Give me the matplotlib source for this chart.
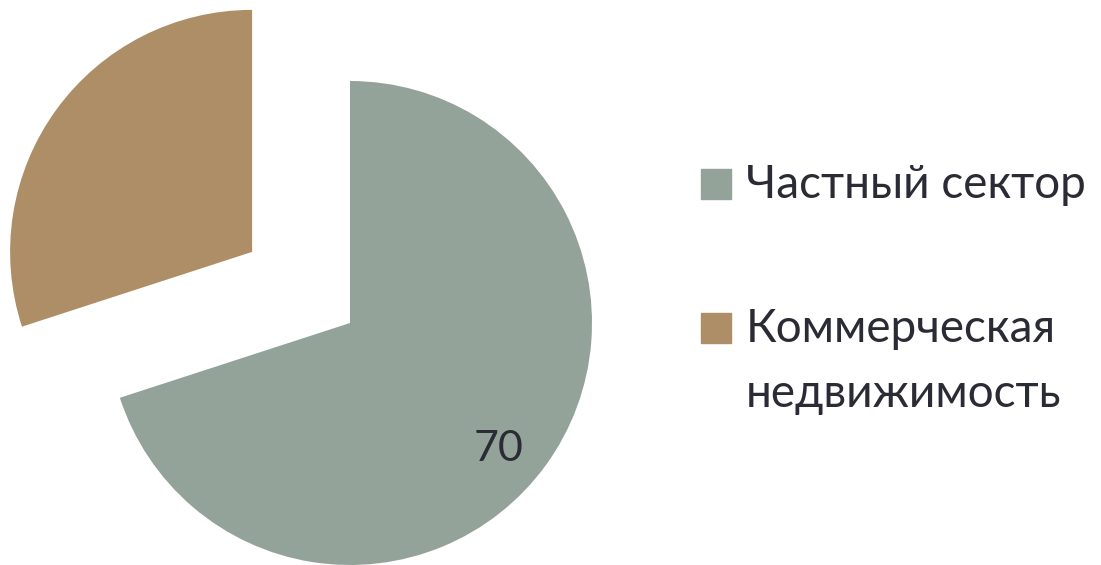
import matplotlib.pyplot as plt
from matplotlib.patches import Rectangle
from matplotlib.transforms import offset_copy

# data
labels = ["Частный сектор", "Коммерческая\nнедвижимость"]
values = [70, 30]
colors = ["#94A39A", "#AD8E66"]
shown = [True, False]  # only the first slice carries a value label

text_color = "#2B2B36"
plt.rcParams["font.family"] = ["Lato", "DejaVu Sans"]

W, H = 1101, 565
fig = plt.figure(figsize=(W / 100, H / 100), dpi=100)
ax = fig.add_axes([0, 0, 1, 1])

# pie centre / radius in pixels
cx, cy, r = 350, 323, 242

wedges, texts = ax.pie(
    values,
    colors=colors,
    startangle=90,
    counterclock=False,
    explode=[0, 0.5],
    labels=[str(v) if s else "" for v, s in zip(values, shown)],
    labeldistance=0.8,
    textprops=dict(color=text_color, fontsize=31, ha="center", va="center"),
    wedgeprops=dict(linewidth=0),
)
# nudge value labels like the original layout
for t in texts:
    t.set_transform(offset_copy(t.get_transform(), fig=fig, x=-8, y=-12, units="dots"))

ax.set_xlim(-cx / r, (W - cx) / r)
ax.set_ylim(-(H - cy) / r, cy / r)
ax.set_aspect("auto")
ax.axis("off")

# legend drawn by hand (baseline = last line of each label)
leg_box = [184, 328]
leg_base = [197.5, 407]
for lab, col, yb, yt in zip(labels, colors, leg_box, leg_base):
    fig.patches.append(Rectangle((701 / W, 1 - (yb + 15) / H), 30 / W, 30 / H,
                                 transform=fig.transFigure, color=col))
    fig.text(746 / W, 1 - yt / H, lab, color=text_color, fontsize=33,
             ha="left", va="baseline", linespacing=1.67)

fig.savefig("out.png", dpi=100)
